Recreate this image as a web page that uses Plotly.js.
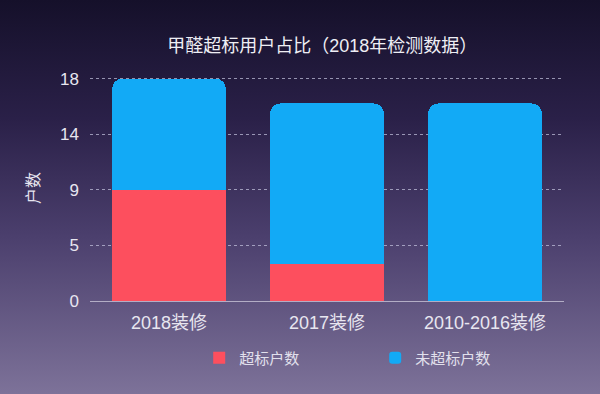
<!DOCTYPE html>
<html>
<head>
<meta charset="utf-8">
<script src="https://cdn.plot.ly/plotly-3.0.1.min.js"></script>
<style>
  html, body { margin: 0; padding: 0; width: 600px; height: 394px; overflow: hidden; }
  body { background: linear-gradient(to bottom, #15102a 0%, #2a2048 30%, #4b3f6d 60%, #7d7299 100%); }
  #chart { width: 600px; height: 394px; }
</style>
</head>
<body>
<div id="chart"></div>
<script>
const categories = ['2018装修', '2017装修', '2010-2016装修'];
const exceeded = [9, 3, 0];
const notExceeded = [9, 13, 16];
const seriesNames = ['超标户数', '未超标户数'];
const yTickVals = [0, 4.5, 9, 13.5, 18];
const yTickText = ['0', '5', '9', '14', '18'];

const font = '"Liberation Sans", "Noto Sans CJK SC", sans-serif';

const traces = [
  {
    type: 'bar', name: seriesNames[0], x: categories, y: exceeded,
    marker: { color: '#fd4f5e', line: { width: 0 } },
    hoverinfo: 'none'
  },
  {
    type: 'bar', name: seriesNames[1], x: categories, y: notExceeded,
    marker: { color: '#12aaf6', cornerradius: 10, line: { width: 0 } },
    hoverinfo: 'none'
  }
];

const layout = {
  width: 600, height: 394,
  paper_bgcolor: 'rgba(0,0,0,0)', plot_bgcolor: 'rgba(0,0,0,0)',
  margin: { l: 90, r: 36, t: 75, b: 93 },
  barmode: 'stack', bargap: 0.28,
  font: { family: font, color: '#e6e4ee' },
  title: {
    text: '甲醛超标用户占比（2018年检测数据）',
    font: { family: font, size: 18, color: '#eeeef4' },
    x: 0.537, xanchor: 'center', y: 0.883, yanchor: 'middle'
  },
  xaxis: {
    type: 'category',
    tickfont: { family: font, size: 18, color: '#e8e6f0' },
    showgrid: false, showline: false, ticks: '', ticklabelstandoff: 9
  },
  yaxis: {
    range: [0, 18.3],
    tickvals: yTickVals, ticktext: yTickText,
    tickfont: { family: font, size: 17, color: '#e8e6f0' },
    showgrid: true, gridcolor: 'rgba(200,200,225,0.7)', griddash: 'dot', gridwidth: 1,
    zeroline: true, zerolinecolor: 'rgba(200,195,215,0.8)', zerolinewidth: 1,
    ticks: '', ticklabelstandoff: 10,
    title: { text: '户数', font: { family: font, size: 16, color: '#e8e6f0' }, standoff: 16 }
  },
  legend: {
    orientation: 'h', xref: 'container', yref: 'container',
    x: 0.332, xanchor: 'left', y: 0.0914, yanchor: 'middle',
    font: { family: font, size: 15, color: '#e2e0ec' },
    entrywidth: 131, entrywidthmode: 'pixels',
    itemsizing: 'constant', traceorder: 'normal'
  },
  showlegend: true
};

Plotly.newPlot('chart', traces, layout, { displayModeBar: false, staticPlot: true });
</script>
</body>
</html>
